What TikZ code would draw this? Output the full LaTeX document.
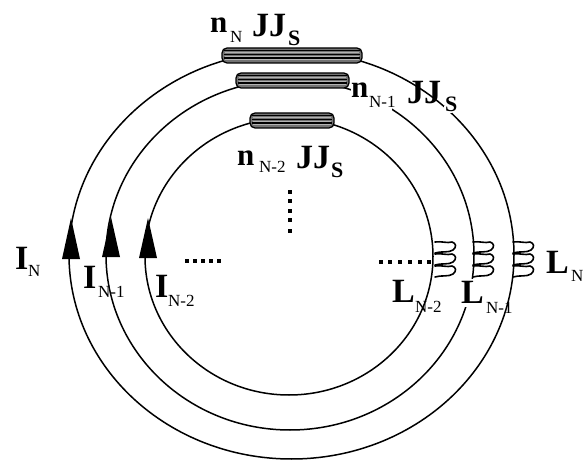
\documentclass[tikz,border=0pt]{standalone}
\usepackage{fontspec}
\usetikzlibrary{calc}
\setmainfont{Liberation Serif}
\begin{document}
\begin{tikzpicture}[x=1pt,y=-1pt,
  ring/.style={draw=black,line width=1.5pt},
  lab/.style={inner sep=0pt,anchor=base west,font=\bfseries\fontsize{34}{34}\selectfont},
  labn/.style={inner sep=0pt,anchor=base west,font=\bfseries\fontsize{31}{31}\selectfont},
  subl/.style={inner sep=0pt,anchor=base west,font=\bfseries\fontsize{22}{22}\selectfont},
  subs/.style={inner sep=0pt,anchor=base west,font=\fontsize{17}{17}\selectfont},
  coil/.style={draw=black,line width=1.6pt,line join=round,line cap=round},
  head/.style={fill=black,draw=none},
  dotty/.style={fill=black,draw=none,minimum size=4pt,inner sep=0pt,rectangle}]
\useasboundingbox (0,0) rectangle (587,460);
\newcommand{\jbar}[5]{%
  \node[draw=black,line width=1.3pt,fill=black!55,rounded corners=5pt,minimum width=#3pt,minimum height=#4pt,inner sep=0pt] (#5) at (#1,#2) {};
  \foreach \d in {-2.8,1,4.2}{\draw[black!30,line width=.9pt] ($(#5.west)+(4,\d)$) -- ($(#5.east)+(-4,\d)$);}
  \foreach \d in {-5.2,-1,2.6}{\draw[black,line width=1.2pt] ($(#5.west)+(3,\d)$) -- ($(#5.east)+(-3,\d)$);}
}
\newcommand{\coillobe}[2]{%
   (#1,#2)
   .. controls (#1+7,#2-1) and (#1+12,#2+1.5) .. (#1+17,#2)
   .. controls (#1+21,#2+1) and (#1+22,#2+5) .. (#1+18,#2+8)
   .. controls (#1+14,#2+11) and (#1+6,#2+9) .. (#1,#2+11)
}
\newcommand{\coilat}[2]{%
  \draw[coil] \coillobe{#1}{#2} \coillobe{#1}{#2+12} \coillobe{#1}{#2+24};
}
% rings
\draw[ring] (291.5,255) ellipse [x radius=222.5,y radius=204];
\draw[ring] (290,255) ellipse [x radius=184,y radius=175];
\draw[ring] (289,256.5) ellipse [x radius=144,y radius=138.5];
% gaps where labels interrupt the rings
\fill[white] (351,84) rectangle (392,112);
\fill[white] (458,279) rectangle (480,307);
\fill[white] (444,106) rectangle (452,113);
% junction bars
\jbar{292}{55.5}{140}{15}{jn}
\jbar{292.5}{80.5}{113}{15}{jm}
\jbar{292}{120.5}{84}{15}{ji}
% coils
\coilat{435}{242}
\coilat{473}{242}
\coilat{513}{242}
% arrowheads
\path[head] (71,218) -- (80,259) -- (62,259) -- cycle;
\path[head] (111,217) -- (120,257) -- (102,257) -- cycle;
\path[head] (148,218) -- (157,258) -- (139,258) -- cycle;
% dots
\foreach \x in {187,195,203,211,219}{\node[dotty] at (\x,261) {};}
\foreach \x in {381,390,400,410,420,429}{\node[dotty] at (\x,262) {};}
\foreach \y in {192,201,211,220,231}{\node[dotty] at (290,\y) {};}
% labels
\node[labn] (nN) at (210,33) {n};
\node[subs] (nNs) at (230,43) {N};
\node[lab] (JJa) at (252,37) {JJ};
\node[subl] (sa) at (288,46) {S};
\node[labn] (nb) at (351,98) {n};
\node[subs] (nbs) at (369,107) {N-1};
\node[lab] (JJb) at (407,103) {JJ};
\node[subl] (sb) at (445,112) {S};
\node[labn] (nc) at (237,165) {n};
\node[subs] (ncs) at (259,172) {N-2};
\node[lab] (JJc) at (296,168) {JJ};
\node[subl] (sc) at (331,177) {S};
\node[lab] (ia) at (15,269) {I};
\node[subs] (ias) at (28,276) {N};
\node[lab] (ib) at (83,288) {I};
\node[subs] (ibs) at (98,297) {N-1};
\node[lab] (ic) at (155,297) {I};
\node[subs] (ics) at (168,306) {N-2};
\node[lab] (lc) at (392,302) {L};
\node[subs] (lcs) at (415,312) {N-2};
\node[lab] (lb) at (461,303) {L};
\node[subs] (lbs) at (486,313) {N-1};
\node[lab] (la) at (546,273) {L};
\node[subs] (las) at (571,281) {N};
\end{tikzpicture}
\end{document}
